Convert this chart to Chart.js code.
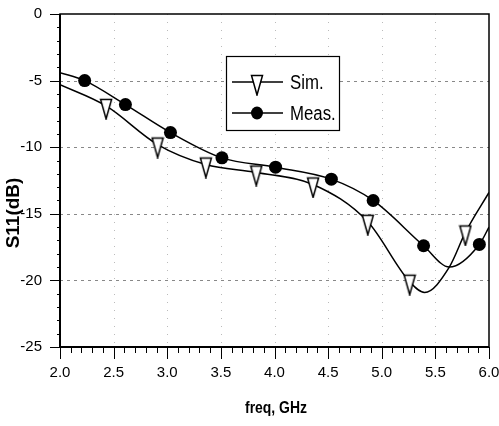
<!DOCTYPE html>
<html>
<head>
<meta charset="utf-8">
<script src="https://cdn.jsdelivr.net/npm/chart.js@4.4.1/dist/chart.umd.min.js"></script>
<style>
    html, body { margin: 0; padding: 0; background: #fff; }
</style>
</head>
<body>
<canvas id="s11-chart" width="499" height="426"></canvas>
<script>
// Simulated S11 curve (triangles)
const simFreq = [2.0, 2.43, 2.91, 3.36, 3.83, 4.36, 4.87, 5.26, 5.40, 5.63, 5.78, 6.0];
const simS11 = [-5.3, -6.9, -9.8, -11.3, -11.9, -12.8, -15.6, -20.1, -20.9, -19.0, -16.4, -13.4];
const simMarked = [1, 2, 3, 4, 5, 6, 7, 10];

// Measured S11 curve (filled circles)
const measFreq = [2.0, 2.23, 2.61, 3.03, 3.51, 4.01, 4.53, 4.92, 5.39, 5.63, 5.91, 6.0];
const measS11 = [-4.4, -5.0, -6.8, -8.9, -10.8, -11.5, -12.4, -14.0, -17.4, -19.0, -17.3, -16.0];
const measMarked = [1, 2, 3, 4, 5, 6, 7, 8, 10];

const seriesLabels = ["Sim.", "Meas."];
const xTitle = "freq, GHz";
const yTitle = "S11(dB)";

const FONT = "'Liberation Sans', Arial, sans-serif";

// Narrow downward triangle used as marker, centroid at the image centre
function makeTriangle() {
    const c = document.createElement("canvas");
    c.width = 14;
    c.height = 28;
    const g = c.getContext("2d");
    g.beginPath();
    g.moveTo(1.5, 7.5);
    g.lineTo(12.5, 7.5);
    g.lineTo(7, 27);
    g.closePath();
    g.fillStyle = "#fff";
    g.fill();
    g.strokeStyle = "#000";
    g.lineWidth = 1.5;
    g.stroke();
    return c;
}
const triangle = makeTriangle();

function toPoints(xs, ys) {
    return xs.map((x, i) => ({ x: x, y: ys[i] }));
}

// squeezed text, the scan uses a narrow face
function narrowText(ctx, text, x, y, sx) {
    ctx.save();
    ctx.translate(x, y);
    ctx.scale(sx, 1);
    ctx.fillText(text, 0, 0);
    ctx.restore();
}

// Frame, grid, ticks, axis titles and the boxed legend
const framePlugin = {
    id: "frame",
    beforeDatasetsDraw(chart) {
        const { ctx, chartArea: a, scales } = chart;
        const xs = scales.x, ys = scales.y;
        ctx.save();
        ctx.lineWidth = 1;
        ctx.strokeStyle = "#888";
        ctx.setLineDash([3, 4]);
        [-5, -10, -15, -20].forEach((v) => {
            const y = Math.round(ys.getPixelForValue(v)) + 0.5;
            ctx.beginPath();
            ctx.moveTo(a.left, y);
            ctx.lineTo(a.right, y);
            ctx.stroke();
        });
        ctx.strokeStyle = "#bbb";
        ctx.setLineDash([1, 7]);
        [2.5, 3.0, 3.5, 4.0, 4.5, 5.0, 5.5].forEach((v) => {
            const x = Math.round(xs.getPixelForValue(v)) + 0.5;
            ctx.beginPath();
            ctx.moveTo(x, a.top);
            ctx.lineTo(x, a.bottom);
            ctx.stroke();
        });
        ctx.restore();
    },
    afterDatasetsDraw(chart) {
        const { ctx, chartArea: a, scales } = chart;
        const xs = scales.x, ys = scales.y;
        ctx.save();
        ctx.strokeStyle = "#000";

        // plot box
        ctx.lineWidth = 1.5;
        ctx.strokeRect(a.left, a.top, a.right - a.left, a.bottom - a.top);
        ctx.lineWidth = 2;
        ctx.beginPath();
        ctx.moveTo(a.left, a.top);
        ctx.lineTo(a.left, a.bottom);
        ctx.lineTo(a.right, a.bottom);
        ctx.stroke();

        // y ticks, every 1 dB
        ctx.lineWidth = 1;
        for (let v = -25; v <= 0; v++) {
            const y = Math.round(ys.getPixelForValue(v)) + 0.5;
            const len = v % 5 === 0 ? 10 : 3;
            ctx.beginPath();
            ctx.moveTo(a.left - len, y);
            ctx.lineTo(a.left, y);
            ctx.stroke();
        }
        // x ticks, every 0.1 GHz
        for (let i = 0; i <= 40; i++) {
            const x = Math.round(xs.getPixelForValue(2 + i / 10)) + 0.5;
            const len = i % 5 === 0 ? 12 : 6;
            ctx.beginPath();
            ctx.moveTo(x, a.bottom);
            ctx.lineTo(x, a.bottom + len);
            ctx.stroke();
        }

        // axis titles
        ctx.fillStyle = "#000";
        ctx.textAlign = "center";
        ctx.textBaseline = "middle";
        ctx.font = "bold 17px " + FONT;
        narrowText(ctx, xTitle, 276, 408, 0.82);
        ctx.save();
        ctx.translate(14, 213);
        ctx.rotate(-Math.PI / 2);
        ctx.font = "bold 19px " + FONT;
        ctx.fillText(yTitle, 0, 0);
        ctx.restore();

        // legend box
        const bx = 226, by = 56, bw = 113, bh = 74;
        ctx.fillStyle = "#fff";
        ctx.fillRect(bx, by, bw, bh);
        ctx.lineWidth = 1.2;
        ctx.strokeRect(bx + 0.5, by + 0.5, bw, bh);
        const rows = [82, 113];
        ctx.lineWidth = 1.5;
        rows.forEach((ry) => {
            ctx.beginPath();
            ctx.moveTo(bx + 6, ry);
            ctx.lineTo(bx + 57, ry);
            ctx.stroke();
        });
        ctx.drawImage(triangle, bx + 31 - 7, rows[0] - 14);
        ctx.fillStyle = "#000";
        ctx.beginPath();
        ctx.ellipse(bx + 31, rows[1], 6, 6.5, 0, 0, Math.PI * 2);
        ctx.fill();
        ctx.textAlign = "left";
        ctx.font = "20px " + FONT;
        narrowText(ctx, seriesLabels[0], bx + 64, rows[0] + 1, 0.84);
        narrowText(ctx, seriesLabels[1], bx + 64, rows[1] + 1, 0.84);
        ctx.restore();
    },
};

const s11Chart = new Chart(document.getElementById("s11-chart"), {
    type: "line",
    data: {
        datasets: [
            {
                label: seriesLabels[0],
                data: toPoints(simFreq, simS11),
                borderColor: "#000",
                borderWidth: 1.5,
                cubicInterpolationMode: "monotone",
                pointStyle: triangle,
                pointRadius: (c) => (simMarked.includes(c.dataIndex) ? 7 : 0),
                fill: false,
            },
            {
                label: seriesLabels[1],
                data: toPoints(measFreq, measS11),
                borderColor: "#000",
                borderWidth: 1.5,
                cubicInterpolationMode: "monotone",
                pointStyle: "circle",
                pointBackgroundColor: "#000",
                pointBorderColor: "#000",
                pointBorderWidth: 0,
                pointRadius: (c) => (measMarked.includes(c.dataIndex) ? 6.5 : 0),
                fill: false,
            },
        ],
    },
    options: {
        responsive: false,
        animation: false,
        events: [],
        layout: {
            padding: { top: 14, right: 10, left: 0, bottom: 0 },
        },
        plugins: {
            legend: { display: false },
            tooltip: { enabled: false },
        },
        scales: {
            x: {
                type: "linear",
                min: 2,
                max: 6,
                grid: { display: false },
                border: { display: false },
                ticks: {
                    stepSize: 0.5,
                    padding: 9,
                    color: "#000",
                    font: { family: FONT, size: 15 },
                    maxRotation: 0,
                    callback: (v) => v.toFixed(1),
                },
                afterFit: (scale) => {
                    scale.height = 79;
                    scale.paddingLeft = 0;
                    scale.paddingRight = 0;
                },
            },
            y: {
                min: -25,
                max: 0,
                grid: { display: false },
                border: { display: false },
                ticks: {
                    stepSize: 5,
                    padding: 10,
                    color: "#000",
                    font: { family: FONT, size: 15 },
                },
                afterFit: (scale) => {
                    scale.width = 60;
                    scale.paddingTop = 0;
                    scale.paddingBottom = 0;
                },
            },
        },
    },
    plugins: [framePlugin],
});

s11Chart.update();
</script>
</body>
</html>
